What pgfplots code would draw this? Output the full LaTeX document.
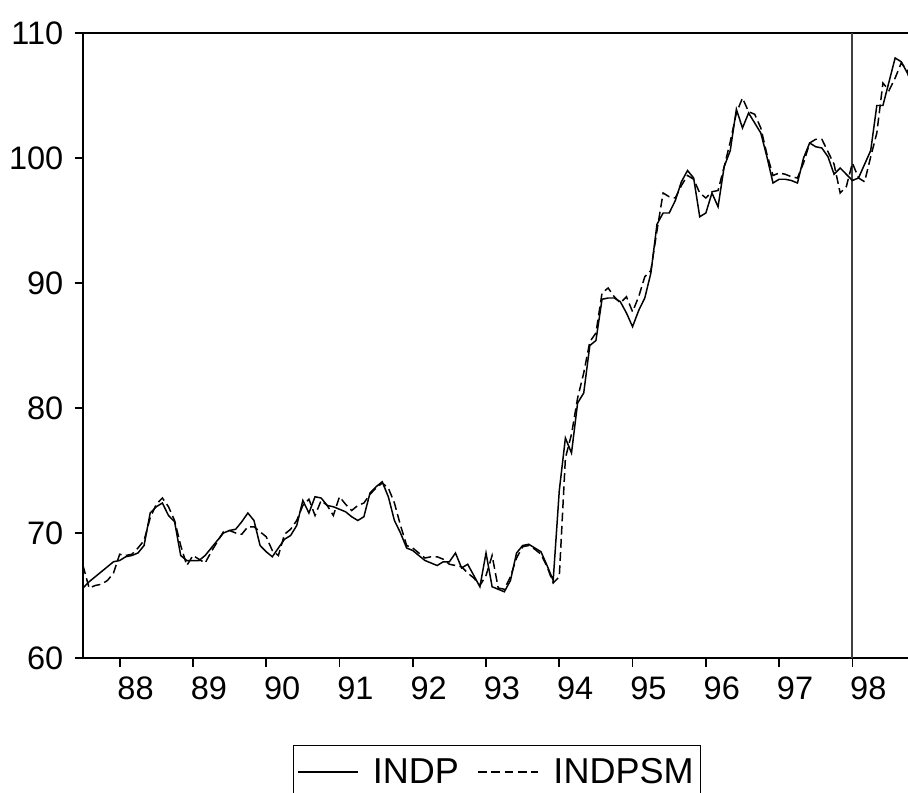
\documentclass[border=0pt]{standalone}
\usepackage{fontspec}
\setmainfont{Liberation Sans}
\usepackage{pgfplots}
\pgfplotsset{compat=1.18}
\usepackage{pgfplotstable}

% monthly, i = 0 is 1987m7
\pgfplotstableread{
i indp indpsm
0 65.6 67.4
1 66.1 65.6
2 66.5 65.8
3 66.9 65.9
4 67.3 66.2
5 67.7 66.8
6 67.8 68.3
7 68.1 68.2
8 68.2 68.3
9 68.4 68.8
10 69.0 69.4
11 71.6 71.2
12 72.1 72.3
13 72.4 72.8
14 71.4 72.1
15 70.9 71.0
16 68.2 69.0
17 67.8 67.4
18 67.8 68.2
19 67.8 67.9
20 68.2 67.6
21 68.8 68.5
22 69.4 69.3
23 70.0 70.1
24 70.2 70.2
25 70.3 70.0
26 70.9 69.9
27 71.6 70.5
28 71.0 70.5
29 69.0 70.1
30 68.5 69.7
31 68.1 68.6
32 68.8 68.2
33 69.5 69.9
34 69.8 70.3
35 70.6 71.0
36 72.6 72.2
37 71.6 72.7
38 72.9 71.4
39 72.8 72.6
40 72.2 72.2
41 72.1 71.4
42 71.9 72.9
43 71.7 72.3
44 71.3 71.8
45 71.0 72.2
46 71.3 72.4
47 73.2 73.1
48 73.7 73.6
49 74.1 74.0
50 72.9 73.6
51 71.0 72.4
52 70.0 70.6
53 68.8 69.0
54 68.6 68.8
55 68.2 68.4
56 67.8 68.0
57 67.6 68.1
58 67.4 68.1
59 67.7 67.9
60 67.7 67.5
61 68.4 67.4
62 67.2 67.3
63 67.5 66.8
64 66.6 66.4
65 65.7 65.8
66 68.4 66.6
67 65.7 68.2
68 65.5 65.6
69 65.3 65.5
70 66.2 66.5
71 68.4 68.0
72 69.0 68.9
73 69.1 69.0
74 68.8 68.7
75 68.5 68.3
76 67.4 67.3
77 66.2 66.0
78 73.4 66.5
79 77.6 76.0
80 76.4 77.9
81 80.4 80.8
82 81.2 82.8
83 85.0 85.3
84 85.4 86.0
85 88.7 89.2
86 88.8 89.6
87 88.8 88.9
88 88.5 88.4
89 87.6 88.9
90 86.5 87.7
91 87.8 88.9
92 88.8 90.5
93 90.8 91.0
94 94.7 94.2
95 95.6 97.2
96 95.6 96.9
97 96.6 96.8
98 98.1 97.8
99 99.0 98.6
100 98.4 98.3
101 95.3 97.2
102 95.6 96.8
103 97.2 97.3
104 96.1 97.4
105 99.3 99.3
106 100.6 101.3
107 103.9 103.6
108 102.4 104.8
109 103.6 103.7
110 102.8 103.5
111 102.0 102.4
112 100.1 100.3
113 98.0 98.6
114 98.3 98.8
115 98.3 98.7
116 98.2 98.5
117 98.0 98.4
118 100.0 99.6
119 101.2 101.2
120 100.9 101.5
121 100.8 101.5
122 100.1 100.5
123 98.7 99.5
124 99.2 97.2
125 98.7 97.7
126 98.2 99.6
127 98.4 98.4
128 99.5 98.1
129 100.6 100.1
130 104.2 102.0
131 104.2 106.0
132 106.1 105.4
133 108.0 106.4
134 107.7 107.6
135 106.8 107.0
136 105.6 106.2
}\indtable

\begin{document}
\begin{tikzpicture}
% the reference is cut at its right and bottom edges
\useasboundingbox (-1.66,-2.68) rectangle (16.5,13.16);
\begin{axis}[
    at={(0,0)}, anchor=south west,
    scale only axis,
    width=16.67cm, height=12.5cm,
    xmin=0, xmax=136.5,
    ymin=60, ymax=110,
    ytick={60,70,80,90,100,110},
    xtick={6,18,30,42,54,66,78,90,102,114,126},
    xticklabels={88,89,90,91,92,93,94,95,96,97,98},
    extra x ticks={126},
    extra x tick labels={},
    extra x tick style={grid=major, major grid style={draw=black!75, line width=1.1pt}},
    tick align=outside,
    xtick pos=bottom, ytick pos=left,
    major tick length=0.17cm,
    axis line style={line width=1.1pt},
    tick style={line width=1pt, black},
    /pgf/number format/assume math mode=true,
    tick label style={font=\fontsize{18.5}{20}\selectfont},
    xticklabel style={anchor=north west, inner xsep=0pt, xshift=-0.05cm, yshift=-0.08cm},
    yticklabel style={xshift=-0.1cm},
    legend columns=2,
    legend style={at={(axis description cs:0.4967,-0.1392)}, anchor=north,
        draw=black, line width=0.6pt, font=\fontsize{20.5}{22}\selectfont,
        inner xsep=0.06cm, inner ysep=0.18cm,
        /tikz/every even column/.append style={column sep=0.3cm}},
    legend image code/.code={\draw[#1] (0cm,0cm) -- (1.2cm,0cm); \path (1.42cm,0cm);},
]
\addplot[black, line width=0.85pt] table[x=i, y=indp] {\indtable};
\addlegendentry{INDP}
\addplot[black, line width=0.85pt, dash pattern=on 5pt off 2.5pt] table[x=i, y=indpsm] {\indtable};
\addlegendentry{INDPSM}
\end{axis}
\end{tikzpicture}
\end{document}
